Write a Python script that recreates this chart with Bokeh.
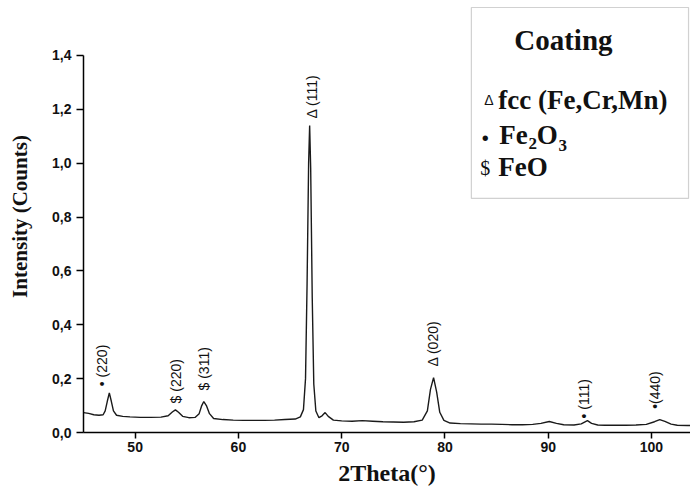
from math import pi
from bokeh.plotting import figure
from bokeh.models import FixedTicker, BoxAnnotation, Label, ColumnDataSource
from bokeh.core.properties import value
from bokeh.embed import file_html
from bokeh.resources import INLINE

# ---- data ----
two_theta = [45.0, 45.5, 46.0, 46.5, 46.9, 47.1, 47.3, 47.5, 47.7, 47.9, 48.2, 48.8, 49.5,
             50.5, 51.5, 52.5, 53.2, 53.6, 53.9, 54.2, 54.6, 55.2, 55.8, 56.2, 56.45, 56.65,
             56.9, 57.2, 57.6, 58.5, 59.5, 60.5, 61.5, 62.5, 63.5, 64.5, 65.5, 66.0, 66.3,
             66.5, 66.65, 66.8, 66.9, 67.0, 67.15, 67.3, 67.5, 67.8, 68.1, 68.4, 68.7, 69.2,
             70.0, 71.0, 72.0, 73.0, 74.0, 75.0, 76.0, 77.0, 77.8, 78.3, 78.6, 78.9, 79.2,
             79.5, 79.9, 80.5, 81.5, 82.5, 83.5, 84.5, 85.5, 86.5, 87.5, 88.5, 89.3, 90.1,
             90.8, 91.5, 92.5, 93.2, 93.8, 94.2, 94.8, 95.5, 96.5, 97.5, 98.5, 99.5, 100.3,
             100.8, 101.3, 101.9, 102.5, 103.5, 104.0]
intensity = [0.074, 0.071, 0.066, 0.064, 0.066, 0.080, 0.115, 0.147, 0.115, 0.080, 0.064, 0.060, 0.058,
             0.056, 0.056, 0.057, 0.062, 0.076, 0.084, 0.075, 0.060, 0.055, 0.056, 0.070, 0.100, 0.115,
             0.100, 0.070, 0.052, 0.048, 0.046, 0.045, 0.045, 0.045, 0.046, 0.048, 0.050, 0.058, 0.085,
             0.200, 0.550, 1.000, 1.140, 0.980, 0.500, 0.180, 0.080, 0.055, 0.062, 0.074, 0.060, 0.046,
             0.043, 0.042, 0.044, 0.042, 0.040, 0.039, 0.038, 0.040, 0.046, 0.080, 0.160, 0.204, 0.150,
             0.075, 0.045, 0.035, 0.033, 0.032, 0.031, 0.031, 0.030, 0.029, 0.029, 0.030, 0.034, 0.041,
             0.034, 0.029, 0.028, 0.032, 0.044, 0.034, 0.028, 0.027, 0.027, 0.027, 0.028, 0.030, 0.040,
             0.048, 0.041, 0.031, 0.027, 0.026, 0.026]

y_ticks = [0.0, 0.2, 0.4, 0.6, 0.8, 1.0, 1.2, 1.4]
y_tick_labels = ["0,0", "0,2", "0,4", "0,6", "0,8", "1,0", "1,2", "1,4"]
x_ticks = [50, 60, 70, 80, 90, 100]

peak_label_text = ["\u2022 (220)", "$ (220)", "$ (311)", "\u0394 (111)", "\u0394 (020)", "\u2022 (111)", "\u2022(440)"]
peak_label_x = [46.80, 53.97, 56.69, 67.15, 78.87, 93.50, 100.30]
peak_label_y = [0.172, 0.108, 0.156, 1.166, 0.245, 0.052, 0.088]

p = figure(width=690, height=490, output_backend="svg", toolbar_location=None,
           x_range=(45, 103.78), y_range=(0, 1.604),
           min_border_left=83, min_border_right=0, min_border_top=0, min_border_bottom=58)
p.outline_line_color = None
p.xgrid.visible = False
p.ygrid.visible = False
p.background_fill_color = "white"

p.line(two_theta, intensity, line_color="#1a1a1a", line_width=1.4)

# axes
for ax in (p.xaxis[0], p.yaxis[0]):
    ax.axis_line_color = "black"
    ax.axis_line_width = 1.5
    ax.major_tick_line_color = "black"
    ax.major_tick_line_width = 1.5
    ax.major_tick_in = 0
    ax.minor_tick_line_color = None
    ax.major_label_text_font = "Liberation Sans"
    ax.major_label_text_font_style = "bold"
    ax.major_label_text_font_size = "14px"
    ax.major_label_text_color = "#111111"
    ax.axis_label_text_font = "Liberation Serif"
    ax.axis_label_text_font_style = "bold"
    ax.axis_label_text_color = "#111111"

p.yaxis.ticker = FixedTicker(ticks=y_ticks)
p.yaxis.major_label_overrides = {t: l for t, l in zip(y_ticks, y_tick_labels)}
p.yaxis.bounds = (0, 1.4)
p.yaxis.major_tick_out = 7
p.yaxis.major_label_standoff = 5
p.yaxis.axis_label = "Intensity (Counts)"
p.yaxis.axis_label_text_font_size = "21px"
p.yaxis.axis_label_standoff = 17

p.xaxis.ticker = FixedTicker(ticks=x_ticks)
p.xaxis.major_tick_out = 6
p.xaxis.major_label_standoff = 3
p.xaxis.axis_label = "2Theta(\u00b0)"
p.xaxis.axis_label_text_font_size = "24px"
p.xaxis.axis_label_standoff = 5

# peak labels
src = ColumnDataSource(dict(x=peak_label_x, y=peak_label_y, t=peak_label_text))
p.text(x="x", y="y", text="t", source=src, angle=pi / 2, text_align="left",
       text_baseline="middle", text_font=value("Liberation Sans"), text_font_size="14px",
       text_color="#111111")

# legend box
p.add_layout(BoxAnnotation(left=82.56, right=103.59, bottom=0.869, top=1.578,
                           fill_color="white", fill_alpha=1.0, line_color="#666666",
                           line_width=1.2))

def lab(x, y, text, size, font="Liberation Serif", style="bold", align="left", baseline="alphabetic"):
    p.add_layout(Label(x=x, y=y, text=text, text_font=font, text_font_style=style,
                       text_font_size=size, text_align=align, text_baseline=baseline,
                       text_color="#111111"))

lab(91.47, 1.459, "Coating", "29px", align="center")
lab(84.25, 1.236, "\u0394", "14px", font="Liberation Sans", style="normal", align="center")
lab(85.17, 1.236, "fcc (Fe,Cr,Mn)", "27px")
lab(83.90, 1.095, "\u2022", "20px", font="Liberation Sans", style="normal", align="center", baseline="middle")
lab(85.27, 1.106, "Fe", "27px")
lab(88.10, 1.073, "2", "17px")
lab(88.90, 1.106, "O", "27px")
lab(91.00, 1.065, "3", "17px")
lab(83.42, 0.983, "$", "20px", style="normal")
lab(85.17, 0.987, "FeO", "27px")

open("out.html", "w").write(file_html(p, INLINE))
